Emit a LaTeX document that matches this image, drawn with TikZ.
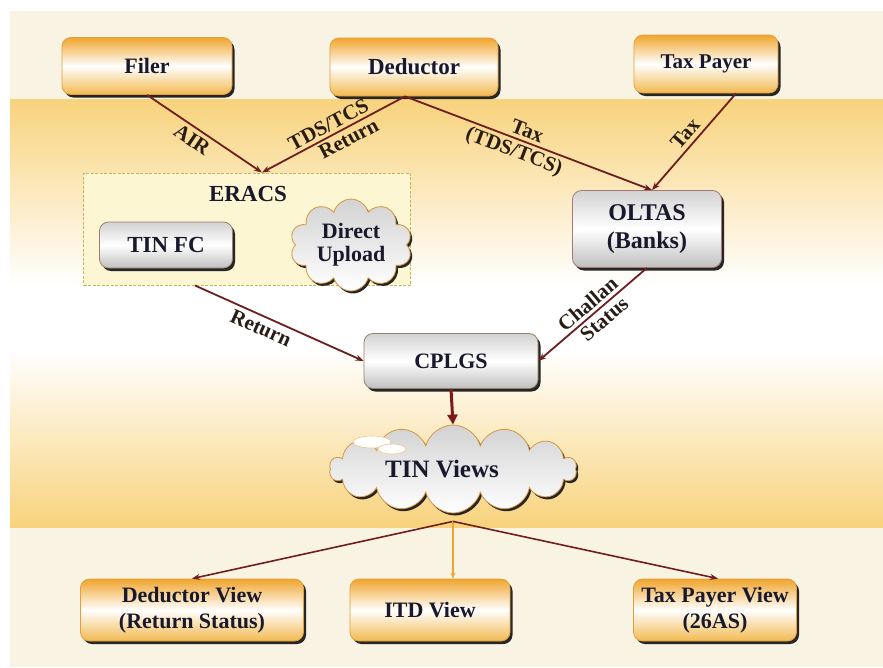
\documentclass[tikz,border=0pt]{standalone}
\usepackage{fontspec}
\setmainfont{Liberation Serif}
\usetikzlibrary{arrows.meta,shapes.symbols,shadows}
\definecolor{beige}{RGB}{249,243,228}
\definecolor{band}{RGB}{248,211,125}
\definecolor{maroon}{RGB}{110,30,30}
\definecolor{obord}{RGB}{225,160,60}
\definecolor{otop}{RGB}{240,165,45}
\definecolor{obot}{RGB}{242,185,80}
\definecolor{ink}{RGB}{25,25,45}
\definecolor{labink}{RGB}{40,28,20}
\definecolor{eracsfill}{RGB}{252,246,210}
\definecolor{eracsdraw}{RGB}{200,180,90}
\tikzset{
  boxbase/.style={rounded corners=9pt, line width=0.8pt, text=ink, align=center,
    font=\fontsize{22}{26}\selectfont\bfseries,
    general shadow={fill=black!85, shadow xshift=2.5pt, shadow yshift=-3pt}},
  obox/.style={boxbase, draw=obord, top color=otop, bottom color=obot, middle color=white},
  gbox/.style={boxbase, draw=gray!60!brown, top color=gray!35, bottom color=gray!50, middle color=white},
  cloudbox/.style={cloud, cloud puffs=#1, cloud ignores aspect, draw=obord!70!brown, line width=0.8pt,
    top color=gray!35, bottom color=white, text=ink, align=center,
    font=\fontsize{22}{24}\selectfont\bfseries,
    general shadow={fill=black!85, shadow xshift=2pt, shadow yshift=-2.5pt}},
  conn/.style={draw=maroon, line width=1.8pt, -{Stealth[length=8pt,width=6pt]}},
  lab/.style={sloped, text=labink, font=\fontsize{21}{23}\selectfont\bfseries, inner sep=2pt},
}
\begin{document}
\begin{tikzpicture}[x=1pt,y=-1pt]
\useasboundingbox (0,0) rectangle (883,667);
\fill[white] (0,0) rectangle (883,667);
\fill[beige] (10,11) rectangle (883,667);
\shade[top color=band,bottom color=white] (10,99) rectangle (883,285);
\fill[white] (10,285) rectangle (883,350);
\shade[top color=white,bottom color=band] (10,350) rectangle (883,527);

% top row
\node[obox, minimum width=170pt, minimum height=57pt] (filer) at (147,66) {Filer};
\node[obox, minimum width=168pt, minimum height=58pt, font=\fontsize{23}{26}\selectfont\bfseries] (deductor) at (414,67) {Deductor};
\node[obox, minimum width=144pt, minimum height=58pt, font=\fontsize{21}{26}\selectfont\bfseries] (taxpayer) at (706,64) {Tax Payer};

% ERACS group
\node[draw=eracsdraw, dash pattern=on 3pt off 1.5pt, line width=1pt, fill=eracsfill,
      minimum width=327pt, minimum height=112pt] (eracs) at (247,229) {};
\node[text=ink, font=\fontsize{23}{26}\selectfont\bfseries] (eracslbl) at (248,194) {ERACS};
\node[gbox, minimum width=133pt, minimum height=46pt, font=\fontsize{23}{26}\selectfont\bfseries] (tinfc) at (166,245) {TIN FC};
\node[cloudbox=10, minimum width=122pt, minimum height=84pt,
      font=\fontsize{22}{23}\selectfont\bfseries] (direct) at (351,245) {Direct\\Upload};

% OLTAS
\node[gbox, draw=maroon!60, minimum width=149pt, minimum height=77pt,
      font=\fontsize{24}{28}\selectfont\bfseries] (oltas) at (647,229) {OLTAS\\(Banks)};

% CPLGS
\node[gbox, minimum width=174pt, minimum height=55pt] (cplgs) at (451,361) {CPLGS};

% TIN Views
\node[cloudbox=14, minimum width=247pt, minimum height=88pt] (tinviews) at (453,469) {};
\draw[obord!60, fill=white, line width=0.6pt] (372,442) ellipse (19pt and 6pt);
\draw[obord!60, fill=white, line width=0.6pt] (392,449) ellipse (14pt and 5pt);
\node[text=ink, font=\fontsize{25}{28}\selectfont\bfseries] (tvtext) at (442,469) {TIN Views};

% bottom row
\node[obox, minimum width=223pt, minimum height=62pt,
      font=\fontsize{22}{26}\selectfont\bfseries] (dview) at (192,610) {Deductor View\\(Return Status)};
\node[obox, minimum width=160pt, minimum height=62pt,
      font=\fontsize{22}{26}\selectfont\bfseries] (itd) at (430,610) {ITD View};
\node[obox, minimum width=163pt, minimum height=62pt,
      font=\fontsize{22}{26}\selectfont\bfseries] (tpview) at (715,610) {Tax Payer View\\(26AS)};

% connectors
\coordinate (eracsin) at ([xshift=15pt]eracs.north);
\coordinate (oltasin) at ([xshift=5pt]oltas.north);
\coordinate (dedout) at ([xshift=-9pt]deductor.south);
\coordinate (tpout) at ([xshift=30pt]taxpayer.south);
\coordinate (eracsout) at ([xshift=-52pt]eracs.south);
\coordinate (tvout) at ([yshift=-8pt]tinviews.south);

\draw[conn] (filer.south) -- (eracsin) node[lab, pos=0.45, below=2pt] {AIR};
\draw[conn] (dedout) -- (eracsin)
   node[lab, pos=0.5, above=1pt] {TDS/TCS}
   node[lab, pos=0.43, below=1pt] {Return};
\draw[conn] (dedout) -- (oltasin)
   node[lab, pos=0.48, above=1pt] {Tax}
   node[lab, pos=0.46, below=1pt] {(TDS/TCS)};
\draw[conn] (tpout) -- (oltasin) node[lab, pos=0.5, above=2pt] {Tax};
\draw[conn] (eracsout) -- (cplgs.west) node[lab, pos=0.42, below=2pt] {Return};
\draw[conn] (oltas.south) -- (cplgs.east)
   node[lab, pos=0.48, above=1pt] {Challan}
   node[lab, pos=0.46, below=1pt] {Status};
\draw[draw=maroon!90!red, line width=3pt, -{Triangle[length=10pt,width=10pt]}] (cplgs.south) -- (tinviews.north);
\draw[conn, line width=1.6pt] (tvout) -- (dview.north);
\draw[draw=otop, line width=1.2pt, -{Stealth[length=6pt,width=5pt]}] (tvout) -- (tvout |- itd.north);
\draw[conn, line width=1.6pt] (tvout) -- ([xshift=3pt]tpview.north);
\end{tikzpicture}
\end{document}
